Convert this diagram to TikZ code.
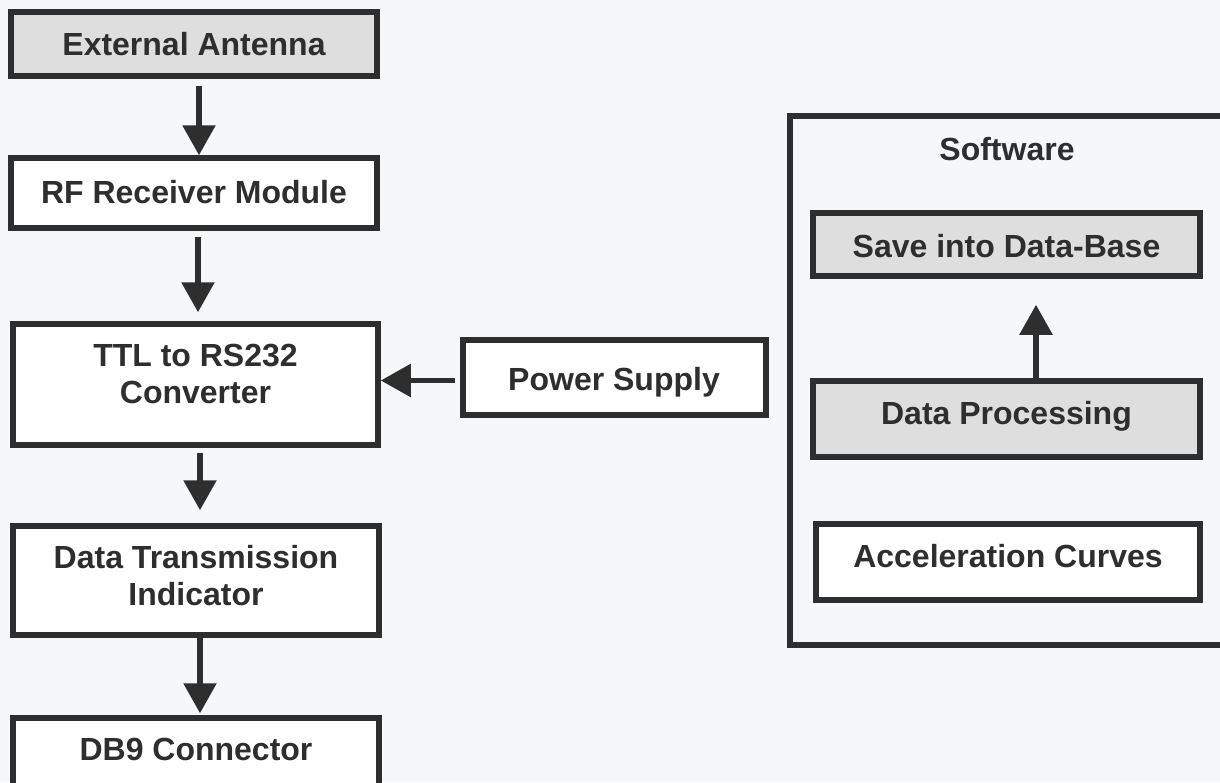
\documentclass[tikz,border=0pt]{standalone}
\usepackage{fontspec}
\setmainfont{Liberation Sans}
\usetikzlibrary{arrows.meta}
\definecolor{ink}{HTML}{2E2E2E}
\definecolor{paper}{HTML}{F5F7F9}
\definecolor{shade}{HTML}{DEDEDE}
\tikzset{
  blk/.style={draw=ink, line width=5.5pt, rectangle, inner sep=0pt, fill=white},
  gblk/.style={blk, fill=shade},
  lbl/.style={text=ink, font=\bfseries\fontsize{32}{37}\selectfont, align=center, inner sep=0pt},
  bl/.style={lbl, anchor=base},
  arr/.style={draw=ink, line width=5.5pt, -{Triangle[width=32pt,length=30pt]}}
}
\begin{document}
\begin{tikzpicture}[x=1pt,y=-1pt]
\clip (0,0) rectangle (1220,782);
\fill[paper] (0,0) rectangle (1220,782);

% left column
\node[gblk, minimum width=366pt, minimum height=64pt] (ext) at (194,44) {};
\node[bl] (extT) at (194,55) {External Antenna};
\node[blk, minimum width=366pt, minimum height=70pt] (rf) at (194,193) {};
\node[bl] (rfT) at (194,203) {RF Receiver Module};
\node[blk, minimum width=365pt, minimum height=121pt] (ttl) at (195.5,384.5) {};
\node[lbl] (ttlT) at (195.5,374) {TTL to RS232\\Converter};
\node[blk, minimum width=303pt, minimum height=75pt] (ps) at (614.5,377.5) {};
\node[bl] (psT) at (614,390) {Power Supply};
\node[blk, minimum width=366pt, minimum height=109pt] (dt) at (196,580.5) {};
\node[lbl] (dtT) at (196,576) {Data Transmission\\Indicator};
\node[blk, minimum width=366pt, minimum height=90pt] (db9) at (196,763) {};
\node[bl] (db9T) at (196,760) {DB9 Connector};

% software
\node[blk, fill=none, minimum width=450pt, minimum height=529pt] (sw) at (1015,380.5) {};
\node[bl] (swT) at (1007,160) {Software};
\node[gblk, minimum width=387pt, minimum height=63pt] (save) at (1006.5,244.5) {};
\node[bl] (saveT) at (1006.5,257) {Save into Data-Base};
\node[gblk, minimum width=387pt, minimum height=76pt] (dp) at (1006.5,419) {};
\node[bl] (dpT) at (1006.5,424) {Data Processing};
\node[blk, minimum width=384pt, minimum height=76pt] (acc) at (1008,562) {};
\node[bl] (accT) at (1008,567) {Acceleration Curves};

% connectors
\draw[arr, shorten <=7pt] ([xshift=5pt]ext.south) -- ([xshift=5pt]rf.north);
\draw[arr, shorten <=6pt, shorten >=9pt] ([xshift=4pt]rf.south) -- ([xshift=4pt]rf.south |- ttl.north);
\draw[arr, shorten <=5pt, shorten >=13pt] ([xshift=4.5pt]ttl.south) -- ([xshift=4.5pt]ttl.south |- dt.north);
\draw[arr, shorten <=5pt] ([yshift=-3pt]ps.west) -- ([yshift=-3pt]ps.west -| ttl.east);
\draw[arr, shorten >=2pt] ([xshift=4pt]dt.south) -- ([xshift=4pt]dt.south |- db9.north);
\draw[arr, shorten >=26pt] ([xshift=29.5pt]dp.north) -- ([xshift=29.5pt]dp.north |- save.south);
\end{tikzpicture}
\end{document}
